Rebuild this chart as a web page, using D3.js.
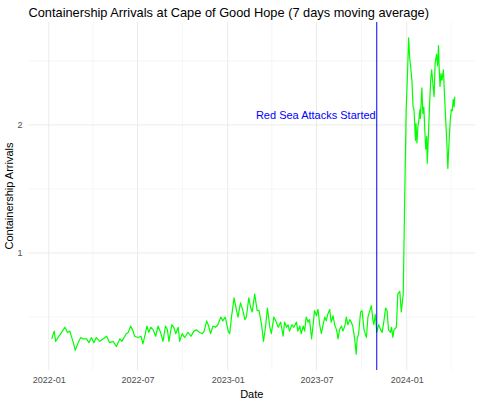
<!DOCTYPE html>
<html>
<head>
<meta charset="utf-8">
<script src="https://cdn.jsdelivr.net/npm/d3@7"></script>
<style>
  body { margin: 0; background: #fff; }
  text { font-family: "Liberation Sans", Arial, Helvetica, sans-serif; }
</style>
</head>
<body>
<svg id="chart" width="480" height="403"></svg>
<script>
// data: days since startDate and 7-day moving average
var startDate = "2022-01-01";
var dayOffsets = [
  6,11,14,19,26,33,38,43,50,54,60,65,70,77,82,87,92,97,104,111,118,124,131,138,145,149,158,
  162,167,172,175,182,188,192,197,200,204,208,213,218,223,228,233,238,242,245,251,255,259,264,267,272,277,284,290,296,301,308,313,317,322,
  326,330,335,340,345,351,355,360,366,369,373,378,383,386,391,396,400,403,408,412,415,420,425,429,434,438,442,446,451,454,459,463,468,473,478,
  481,485,488,491,496,500,505,508,512,515,519,522,525,529,532,536,539,542,546,549,553,556,559,563,566,569,573,576,580,583,587,590,593,597,600,
  604,607,610,614,617,620,624,627,629,632,636,639,643,648,651,655,658,661,663,666,669,673,677,680,684,687,690,693,697,699,702,704,709,712,716,719,723,
  726,729,732,734,736,738,741,743,745,748,749,751,753,755,757,758,761,763,765,767,769,771,772,774,776,779,781,784,786,788,791,793,795,796,798,
  800,802,805,807,809,812,814,816,819,821,823,825,827,828
];
var arrivals = [
  0.33,0.39,0.31,0.34,0.38,0.42,0.38,0.39,0.30,0.24,0.30,0.34,0.33,0.33,0.30,0.34,0.30,0.34,0.31,0.33,0.35,0.30,0.31,0.27,0.33,0.31,0.37,
  0.38,0.43,0.39,0.35,0.34,0.35,0.29,0.37,0.43,0.38,0.42,0.40,0.35,0.43,0.38,0.31,0.43,0.40,0.31,0.44,0.42,0.37,0.42,0.31,0.37,0.34,0.38,0.35,0.39,0.40,0.38,0.37,0.39,0.47,
  0.43,0.37,0.43,0.42,0.44,0.50,0.47,0.50,0.39,0.37,0.51,0.65,0.55,0.50,0.61,0.55,0.48,0.50,0.65,0.57,0.54,0.68,0.55,0.55,0.44,0.31,0.42,0.57,0.42,0.37,0.50,0.47,0.42,0.46,0.35,
  0.46,0.42,0.44,0.39,0.44,0.42,0.46,0.39,0.43,0.37,0.43,0.39,0.50,0.46,0.48,0.33,0.43,0.55,0.51,0.56,0.43,0.37,0.43,0.50,0.47,0.52,0.56,0.46,0.51,0.44,0.40,0.33,0.40,0.43,0.39,
  0.43,0.50,0.44,0.48,0.46,0.43,0.33,0.21,0.33,0.37,0.54,0.55,0.40,0.34,0.50,0.55,0.59,0.48,0.44,0.52,0.38,0.44,0.40,0.38,0.48,0.57,0.55,0.40,0.38,0.42,0.34,0.40,0.42,0.68,0.70,0.54,0.68,
  1.42,2.12,2.43,2.68,2.53,2.46,2.33,2.14,2.12,1.88,2.01,1.86,1.99,2.04,2.12,2.05,2.29,2.09,2.14,1.96,1.81,1.91,1.70,1.88,2.09,2.35,2.43,2.30,2.22,2.48,2.55,2.46,2.62,2.48,2.30,
  2.40,2.35,2.43,2.25,2.09,1.86,1.66,1.83,2.04,2.12,2.11,2.20,2.14,2.22
];
var attackDate = "2023-11-01";
var attackLabel = "Red Sea Attacks Started";
var xTickLabels = ["2022-01", "2022-07", "2023-01", "2023-07", "2024-01"];
var xMinorLabels = ["2022-04", "2022-10", "2023-04", "2023-10", "2024-04"];
var yTicks = [1, 2];
var yMinorTicks = [0.5, 1.5, 2.5];

(function() {
  var svg = d3.select("#chart");
  var pLeft = 28.5, pRight = 475, pTop = 22, pBottom = 370;

  var parseDay = d3.utcParse("%Y-%m-%d");
  var parseMonth = d3.utcParse("%Y-%m");
  var start = parseDay(startDate);

  var data = dayOffsets.map(function(d, i) {
    return { date: d3.utcDay.offset(start, d), value: arrivals[i] };
  });

  // ggplot-style 5% expansion
  var xLo = start, xHi = d3.utcDay.offset(start, d3.max(dayOffsets));
  var xPad = (xHi - xLo) * 0.05;
  var x = d3.scaleUtc()
    .domain([new Date(+xLo - xPad), new Date(+xHi + xPad)])
    .range([pLeft, pRight]);

  var yExt = d3.extent(arrivals), yPad = (yExt[1] - yExt[0]) * 0.05;
  var y = d3.scaleLinear()
    .domain([yExt[0] - yPad, yExt[1] + yPad])
    .range([pBottom, pTop]);

  // grid
  var grid = svg.append("g");
  grid.selectAll(".ymin").data(yMinorTicks).enter().append("line")
    .attr("x1", pLeft).attr("x2", pRight)
    .attr("y1", function(d) { return y(d); }).attr("y2", function(d) { return y(d); })
    .attr("stroke", "#f0f0f0").attr("stroke-width", 0.6);
  grid.selectAll(".xmin").data(xMinorLabels).enter().append("line")
    .attr("y1", pTop).attr("y2", pBottom)
    .attr("x1", function(d) { return x(parseMonth(d)); }).attr("x2", function(d) { return x(parseMonth(d)); })
    .attr("stroke", "#f0f0f0").attr("stroke-width", 0.6);
  grid.selectAll(".ymaj").data(yTicks).enter().append("line")
    .attr("x1", pLeft).attr("x2", pRight)
    .attr("y1", function(d) { return y(d); }).attr("y2", function(d) { return y(d); })
    .attr("stroke", "#ebebeb").attr("stroke-width", 1);
  grid.selectAll(".xmaj").data(xTickLabels).enter().append("line")
    .attr("y1", pTop).attr("y2", pBottom)
    .attr("x1", function(d) { return x(parseMonth(d)); }).attr("x2", function(d) { return x(parseMonth(d)); })
    .attr("stroke", "#ebebeb").attr("stroke-width", 1);

  // axes (labels only, theme_minimal look)
  var xAxis = d3.axisBottom(x)
    .tickValues(xTickLabels.map(parseMonth))
    .tickFormat(d3.utcFormat("%Y-%m"))
    .tickSize(0).tickPadding(7);
  var gx = svg.append("g").attr("transform", "translate(0," + pBottom + ")").call(xAxis);
  gx.select(".domain").remove();
  gx.selectAll("text").attr("fill", "#4d4d4d").style("font-size", "9px")
    .style("font-family", "'Liberation Sans', Arial, sans-serif");

  var yAxis = d3.axisLeft(y).tickValues(yTicks).tickFormat(d3.format("d"))
    .tickSize(0).tickPadding(6);
  var gy = svg.append("g").attr("transform", "translate(" + pLeft + ",0)").call(yAxis);
  gy.select(".domain").remove();
  gy.selectAll("text").attr("fill", "#4d4d4d").style("font-size", "9px")
    .style("font-family", "'Liberation Sans', Arial, sans-serif");

  // series line
  var line = d3.line()
    .x(function(d) { return x(d.date); })
    .y(function(d) { return y(d.value); });
  svg.append("path").datum(data)
    .attr("d", line)
    .attr("fill", "none")
    .attr("stroke", "#00ff00")
    .attr("stroke-width", 1.2)
    .attr("stroke-linejoin", "round");

  // event marker
  var ax = x(parseDay(attackDate));
  svg.append("line")
    .attr("x1", ax).attr("x2", ax).attr("y1", pTop).attr("y2", pBottom)
    .attr("stroke", "#0000ff").attr("stroke-width", 1);
  svg.append("text")
    .attr("x", ax - 1).attr("y", 119)
    .attr("text-anchor", "end")
    .attr("fill", "#0000ff")
    .style("font-size", "11px")
    .text(attackLabel);

  // titles
  svg.append("text")
    .attr("x", pLeft).attr("y", 17)
    .style("font-size", "12.8px").attr("fill", "#000")
    .text("Containership Arrivals at Cape of Good Hope (7 days moving average)");
  svg.append("text")
    .attr("x", (pLeft + pRight) / 2).attr("y", 398)
    .attr("text-anchor", "middle").style("font-size", "11px").attr("fill", "#000")
    .text("Date");
  svg.append("text")
    .attr("transform", "translate(13," + ((pTop + pBottom) / 2) + ") rotate(-90)")
    .attr("text-anchor", "middle").style("font-size", "11px").attr("fill", "#000")
    .text("Containership Arrivals");
})();
</script>
</body>
</html>
